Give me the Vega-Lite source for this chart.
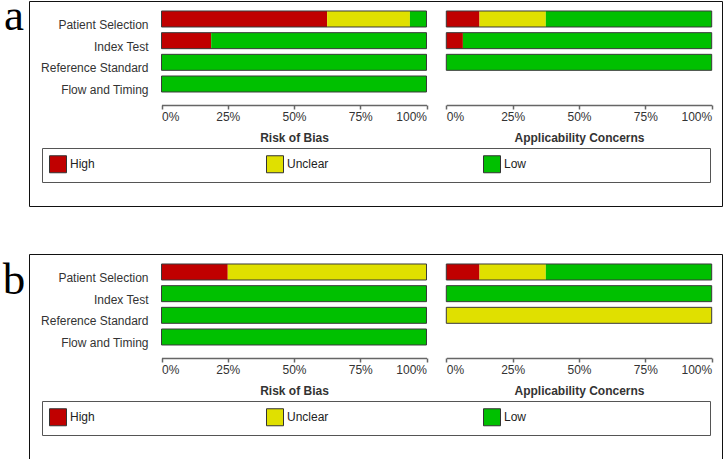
{
  "$schema": "https://vega.github.io/schema/vega-lite/v6.json",
  "padding": 0,
  "background": "white",
  "spacing": 46,
  "config": {"view": {"stroke": null}, "font": "Liberation Sans"},
  "resolve": {"scale": {"x": "independent", "y": "independent", "color": "independent"}, "legend": {"color": "independent"}, "axis": {"x": "independent", "y": "independent"}},
  "vconcat": [
    {
      "spacing": 0,
      "resolve": {"scale": {"x": "independent", "y": "independent", "color": "independent"}, "legend": {"color": "independent"}, "axis": {"x": "independent", "y": "independent"}},
      "hconcat": [
        {
          "width": 28, "height": 58,
          "data": {"values": [{"label": "a"}]},
          "mark": {"type": "text", "font": "Liberation Serif", "fontSize": 45, "baseline": "alphabetic", "align": "center", "color": "#000", "clip": true},
          "encoding": {"text": {"field": "label", "type": "nominal"}}
        },
        {
          "width": 693, "height": 205,
          "view": {"stroke": "#111", "strokeWidth": 1},
          "resolve": {"scale": {"x": "independent"}, "axis": {"x": "independent"}},
          "layer": [
            {
              "data": {"values": [
                {"item": "Patient Selection", "level": "High", "pct": 62.5, "rank": 1},
                {"item": "Patient Selection", "level": "Unclear", "pct": 31.25, "rank": 2},
                {"item": "Patient Selection", "level": "Low", "pct": 6.25, "rank": 3},
                {"item": "Index Test", "level": "High", "pct": 18.75, "rank": 1},
                {"item": "Index Test", "level": "Low", "pct": 81.25, "rank": 3},
                {"item": "Reference Standard", "level": "Low", "pct": 100, "rank": 3},
                {"item": "Flow and Timing", "level": "Low", "pct": 100, "rank": 3}
              ]},
              "encoding": {
                "y": {"field": "item", "type": "nominal", "sort": ["Patient Selection", "Index Test", "Reference Standard", "Flow and Timing"],
                  "scale": {"domain": ["Patient Selection", "Index Test", "Reference Standard", "Flow and Timing"], "range": [7.16, 93.83], "paddingInner": 0.262, "paddingOuter": 0.131},
                  "axis": {"title": null, "orient": "left", "offset": -119, "domain": false, "ticks": false, "tickSize": 0, "labelPadding": 0, "labelOffset": 6, "labelFontSize": 12, "labelColor": "#333", "labelLimit": 300}}
              },
              "layer": [
                {
                  "mark": {"type": "bar"},
                  "encoding": {
                    "x": {"field": "pct", "type": "quantitative", "stack": "zero",
                      "scale": {"domain": [0, 100], "range": [132.5, 397.5], "nice": false},
                      "axis": {"orient": "bottom", "offset": -101, "values": [0, 25, 50, 75, 100], "labelExpr": "datum.value + '%'", "labelFlush": true, "grid": false, "domainColor": "#666", "domainWidth": 1.5, "tickColor": "#666", "tickWidth": 1.5, "tickSize": 4, "labelPadding": 2, "labelFontSize": 12, "labelColor": "#333", "title": "Risk of Bias", "titleFontSize": 12, "titleFontWeight": "bold", "titleColor": "#333", "titlePadding": 10}},
                    "color": {"field": "level", "type": "nominal",
                      "scale": {"domain": ["High", "Unclear", "Low"], "range": ["#C00000", "#E0E000", "#00C000"]},
                      "legend": {"orient": "none", "legendX": 13, "legendY": 147, "direction": "horizontal", "title": " ", "titleOrient": "right", "titlePadding": 177, "padding": 7, "strokeColor": "#555", "symbolType": "square", "symbolSize": 289, "symbolStrokeColor": "#333", "symbolStrokeWidth": 1, "symbolOpacity": 1, "labelFontSize": 12, "labelColor": "#222", "labelOffset": 3, "columnPadding": 152, "gridAlign": "all"}},
                    "order": {"field": "rank", "type": "quantitative"}
                  }
                },
                {
                  "mark": {"type": "bar", "fillOpacity": 0, "stroke": "#3a3a3a", "strokeWidth": 1},
                  "encoding": {"x": {"aggregate": "sum", "field": "pct", "type": "quantitative",
                    "axis": {"orient": "bottom", "offset": -101, "values": [0, 25, 50, 75, 100], "labelExpr": "datum.value + '%'", "labelFlush": true, "grid": false, "domainColor": "#666", "domainWidth": 1.5, "tickColor": "#666", "tickWidth": 1.5, "tickSize": 4, "labelPadding": 2, "labelFontSize": 12, "labelColor": "#333", "title": "Risk of Bias", "titleFontSize": 12, "titleFontWeight": "bold", "titleColor": "#333", "titlePadding": 10}}}
                }
              ]
            },
            {
              "data": {"values": [
                {"item": "Patient Selection", "level": "High", "pct": 12.5, "rank": 1},
                {"item": "Patient Selection", "level": "Unclear", "pct": 25, "rank": 2},
                {"item": "Patient Selection", "level": "Low", "pct": 62.5, "rank": 3},
                {"item": "Index Test", "level": "High", "pct": 6.25, "rank": 1},
                {"item": "Index Test", "level": "Low", "pct": 93.75, "rank": 3},
                {"item": "Reference Standard", "level": "Low", "pct": 100, "rank": 3}
              ]},
              "encoding": {
                "y": {"field": "item", "type": "nominal", "sort": ["Patient Selection", "Index Test", "Reference Standard", "Flow and Timing"],
                  "scale": {"domain": ["Patient Selection", "Index Test", "Reference Standard", "Flow and Timing"], "range": [7.16, 93.83], "paddingInner": 0.262, "paddingOuter": 0.131},
                  "axis": {"title": null, "orient": "left", "offset": -119, "domain": false, "ticks": false, "tickSize": 0, "labelPadding": 0, "labelOffset": 6, "labelFontSize": 12, "labelColor": "#333", "labelLimit": 300}}
              },
              "layer": [
                {
                  "mark": {"type": "bar"},
                  "encoding": {
                    "x": {"field": "pct", "type": "quantitative", "stack": "zero",
                      "scale": {"domain": [0, 100], "range": [417.3, 682.7], "nice": false},
                      "axis": {"orient": "bottom", "offset": -101, "values": [0, 25, 50, 75, 100], "labelExpr": "datum.value + '%'", "labelFlush": true, "grid": false, "domainColor": "#666", "domainWidth": 1.5, "tickColor": "#666", "tickWidth": 1.5, "tickSize": 4, "labelPadding": 2, "labelFontSize": 12, "labelColor": "#333", "title": "Applicability Concerns", "titleFontSize": 12, "titleFontWeight": "bold", "titleColor": "#333", "titlePadding": 10}},
                    "color": {"field": "level", "type": "nominal",
                      "scale": {"domain": ["High", "Unclear", "Low"], "range": ["#C00000", "#E0E000", "#00C000"]},
                      "legend": {"orient": "none", "legendX": 13, "legendY": 147, "direction": "horizontal", "title": " ", "titleOrient": "right", "titlePadding": 177, "padding": 7, "strokeColor": "#555", "symbolType": "square", "symbolSize": 289, "symbolStrokeColor": "#333", "symbolStrokeWidth": 1, "symbolOpacity": 1, "labelFontSize": 12, "labelColor": "#222", "labelOffset": 3, "columnPadding": 152, "gridAlign": "all"}},
                    "order": {"field": "rank", "type": "quantitative"}
                  }
                },
                {
                  "mark": {"type": "bar", "fillOpacity": 0, "stroke": "#3a3a3a", "strokeWidth": 1},
                  "encoding": {"x": {"aggregate": "sum", "field": "pct", "type": "quantitative",
                    "axis": {"orient": "bottom", "offset": -101, "values": [0, 25, 50, 75, 100], "labelExpr": "datum.value + '%'", "labelFlush": true, "grid": false, "domainColor": "#666", "domainWidth": 1.5, "tickColor": "#666", "tickWidth": 1.5, "tickSize": 4, "labelPadding": 2, "labelFontSize": 12, "labelColor": "#333", "title": "Applicability Concerns", "titleFontSize": 12, "titleFontWeight": "bold", "titleColor": "#333", "titlePadding": 10}}}
                }
              ]
            }
          ]
        }
      ]
    },
    {
      "spacing": 0,
      "resolve": {"scale": {"x": "independent", "y": "independent", "color": "independent"}, "legend": {"color": "independent"}, "axis": {"x": "independent", "y": "independent"}},
      "hconcat": [
        {
          "width": 28, "height": 80,
          "data": {"values": [{"label": "b"}]},
          "mark": {"type": "text", "font": "Liberation Serif", "fontSize": 45, "baseline": "alphabetic", "align": "center", "color": "#000", "clip": true},
          "encoding": {"text": {"field": "label", "type": "nominal"}}
        },
        {
          "width": 693, "height": 205,
          "view": {"stroke": "#111", "strokeWidth": 1},
          "resolve": {"scale": {"x": "independent"}, "axis": {"x": "independent"}},
          "layer": [
            {
              "data": {"values": [
                {"item": "Patient Selection", "level": "High", "pct": 25, "rank": 1},
                {"item": "Patient Selection", "level": "Unclear", "pct": 75, "rank": 2},
                {"item": "Index Test", "level": "Low", "pct": 100, "rank": 3},
                {"item": "Reference Standard", "level": "Low", "pct": 100, "rank": 3},
                {"item": "Flow and Timing", "level": "Low", "pct": 100, "rank": 3}
              ]},
              "encoding": {
                "y": {"field": "item", "type": "nominal", "sort": ["Patient Selection", "Index Test", "Reference Standard", "Flow and Timing"],
                  "scale": {"domain": ["Patient Selection", "Index Test", "Reference Standard", "Flow and Timing"], "range": [7.16, 93.83], "paddingInner": 0.262, "paddingOuter": 0.131},
                  "axis": {"title": null, "orient": "left", "offset": -119, "domain": false, "ticks": false, "tickSize": 0, "labelPadding": 0, "labelOffset": 6, "labelFontSize": 12, "labelColor": "#333", "labelLimit": 300}}
              },
              "layer": [
                {
                  "mark": {"type": "bar"},
                  "encoding": {
                    "x": {"field": "pct", "type": "quantitative", "stack": "zero",
                      "scale": {"domain": [0, 100], "range": [132.5, 397.5], "nice": false},
                      "axis": {"orient": "bottom", "offset": -101, "values": [0, 25, 50, 75, 100], "labelExpr": "datum.value + '%'", "labelFlush": true, "grid": false, "domainColor": "#666", "domainWidth": 1.5, "tickColor": "#666", "tickWidth": 1.5, "tickSize": 4, "labelPadding": 2, "labelFontSize": 12, "labelColor": "#333", "title": "Risk of Bias", "titleFontSize": 12, "titleFontWeight": "bold", "titleColor": "#333", "titlePadding": 10}},
                    "color": {"field": "level", "type": "nominal",
                      "scale": {"domain": ["High", "Unclear", "Low"], "range": ["#C00000", "#E0E000", "#00C000"]},
                      "legend": {"orient": "none", "legendX": 13, "legendY": 147, "direction": "horizontal", "title": " ", "titleOrient": "right", "titlePadding": 177, "padding": 7, "strokeColor": "#555", "symbolType": "square", "symbolSize": 289, "symbolStrokeColor": "#333", "symbolStrokeWidth": 1, "symbolOpacity": 1, "labelFontSize": 12, "labelColor": "#222", "labelOffset": 3, "columnPadding": 152, "gridAlign": "all"}},
                    "order": {"field": "rank", "type": "quantitative"}
                  }
                },
                {
                  "mark": {"type": "bar", "fillOpacity": 0, "stroke": "#3a3a3a", "strokeWidth": 1},
                  "encoding": {"x": {"aggregate": "sum", "field": "pct", "type": "quantitative",
                    "axis": {"orient": "bottom", "offset": -101, "values": [0, 25, 50, 75, 100], "labelExpr": "datum.value + '%'", "labelFlush": true, "grid": false, "domainColor": "#666", "domainWidth": 1.5, "tickColor": "#666", "tickWidth": 1.5, "tickSize": 4, "labelPadding": 2, "labelFontSize": 12, "labelColor": "#333", "title": "Risk of Bias", "titleFontSize": 12, "titleFontWeight": "bold", "titleColor": "#333", "titlePadding": 10}}}
                }
              ]
            },
            {
              "data": {"values": [
                {"item": "Patient Selection", "level": "High", "pct": 12.5, "rank": 1},
                {"item": "Patient Selection", "level": "Unclear", "pct": 25, "rank": 2},
                {"item": "Patient Selection", "level": "Low", "pct": 62.5, "rank": 3},
                {"item": "Index Test", "level": "Low", "pct": 100, "rank": 3},
                {"item": "Reference Standard", "level": "Unclear", "pct": 100, "rank": 2}
              ]},
              "encoding": {
                "y": {"field": "item", "type": "nominal", "sort": ["Patient Selection", "Index Test", "Reference Standard", "Flow and Timing"],
                  "scale": {"domain": ["Patient Selection", "Index Test", "Reference Standard", "Flow and Timing"], "range": [7.16, 93.83], "paddingInner": 0.262, "paddingOuter": 0.131},
                  "axis": {"title": null, "orient": "left", "offset": -119, "domain": false, "ticks": false, "tickSize": 0, "labelPadding": 0, "labelOffset": 6, "labelFontSize": 12, "labelColor": "#333", "labelLimit": 300}}
              },
              "layer": [
                {
                  "mark": {"type": "bar"},
                  "encoding": {
                    "x": {"field": "pct", "type": "quantitative", "stack": "zero",
                      "scale": {"domain": [0, 100], "range": [417.3, 682.7], "nice": false},
                      "axis": {"orient": "bottom", "offset": -101, "values": [0, 25, 50, 75, 100], "labelExpr": "datum.value + '%'", "labelFlush": true, "grid": false, "domainColor": "#666", "domainWidth": 1.5, "tickColor": "#666", "tickWidth": 1.5, "tickSize": 4, "labelPadding": 2, "labelFontSize": 12, "labelColor": "#333", "title": "Applicability Concerns", "titleFontSize": 12, "titleFontWeight": "bold", "titleColor": "#333", "titlePadding": 10}},
                    "color": {"field": "level", "type": "nominal",
                      "scale": {"domain": ["High", "Unclear", "Low"], "range": ["#C00000", "#E0E000", "#00C000"]},
                      "legend": {"orient": "none", "legendX": 13, "legendY": 147, "direction": "horizontal", "title": " ", "titleOrient": "right", "titlePadding": 177, "padding": 7, "strokeColor": "#555", "symbolType": "square", "symbolSize": 289, "symbolStrokeColor": "#333", "symbolStrokeWidth": 1, "symbolOpacity": 1, "labelFontSize": 12, "labelColor": "#222", "labelOffset": 3, "columnPadding": 152, "gridAlign": "all"}},
                    "order": {"field": "rank", "type": "quantitative"}
                  }
                },
                {
                  "mark": {"type": "bar", "fillOpacity": 0, "stroke": "#3a3a3a", "strokeWidth": 1},
                  "encoding": {"x": {"aggregate": "sum", "field": "pct", "type": "quantitative",
                    "axis": {"orient": "bottom", "offset": -101, "values": [0, 25, 50, 75, 100], "labelExpr": "datum.value + '%'", "labelFlush": true, "grid": false, "domainColor": "#666", "domainWidth": 1.5, "tickColor": "#666", "tickWidth": 1.5, "tickSize": 4, "labelPadding": 2, "labelFontSize": 12, "labelColor": "#333", "title": "Applicability Concerns", "titleFontSize": 12, "titleFontWeight": "bold", "titleColor": "#333", "titlePadding": 10}}}
                }
              ]
            }
          ]
        }
      ]
    }
  ]
}
